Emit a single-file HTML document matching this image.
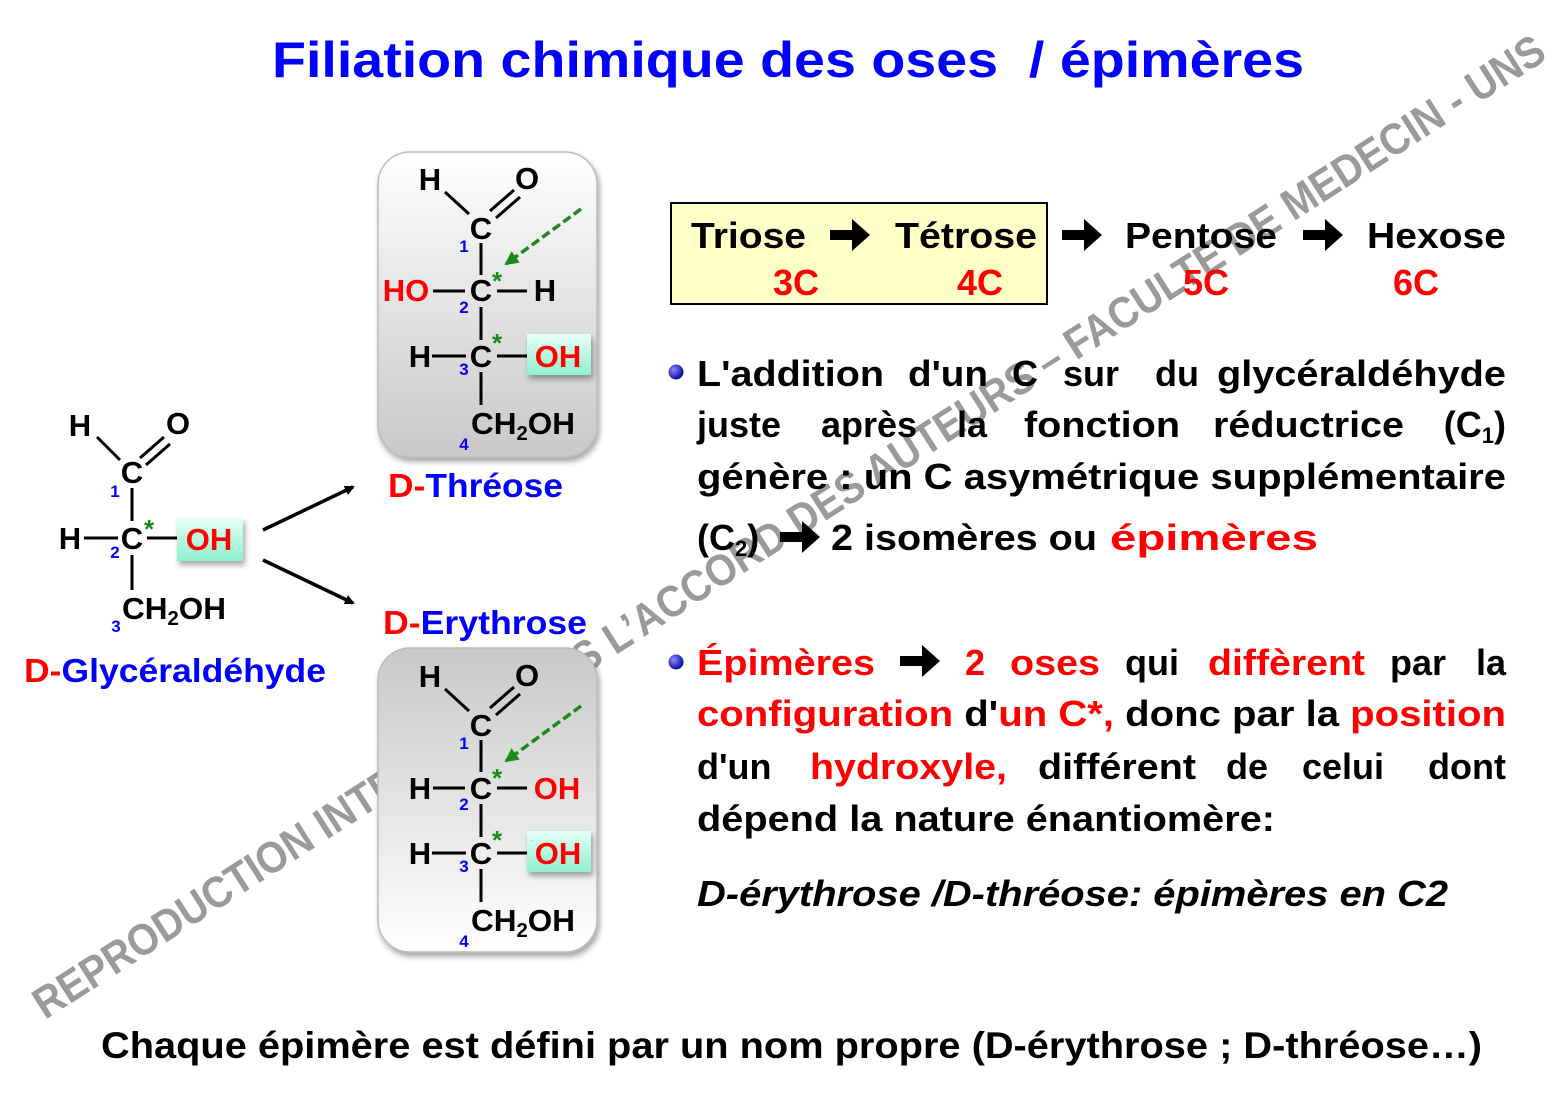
<!DOCTYPE html>
<html><head><meta charset="utf-8"><style>
html,body{margin:0;padding:0;background:#fff}
svg{display:block}
text{font-family:"Liberation Sans",Arial,sans-serif;font-weight:bold}
.at{font-size:31px;fill:#000;text-anchor:middle}
.num{font-size:17px;fill:#0000ff;text-anchor:middle}
.st{font-size:26px;fill:#1a8a1a;text-anchor:middle}
.p{font-size:36px;fill:#000}
.r{fill:#ff0000}
</style></head><body>
<svg width="1560" height="1114" viewBox="0 0 1560 1114" xmlns="http://www.w3.org/2000/svg">
<defs>
<linearGradient id="gt" x1="0" y1="0" x2="0" y2="1"><stop offset="0" stop-color="#ffffff"/><stop offset="1" stop-color="#c8c8c8"/></linearGradient>
<linearGradient id="ge" x1="0" y1="0" x2="0" y2="1"><stop offset="0" stop-color="#c8c8c8"/><stop offset="1" stop-color="#ffffff"/></linearGradient>
<linearGradient id="gm" x1="0" y1="0" x2="0" y2="1"><stop offset="0" stop-color="#e6fff4"/><stop offset="1" stop-color="#8ff0cf"/></linearGradient>
<radialGradient id="gb" cx="0.35" cy="0.35" r="0.7"><stop offset="0" stop-color="#8a8aff"/><stop offset="1" stop-color="#0000a0"/></radialGradient>
<filter id="sh" x="-10%" y="-10%" width="130%" height="130%"><feDropShadow dx="2" dy="4" stdDeviation="3" flood-color="#000" flood-opacity="0.35"/></filter>
<marker id="ab" markerWidth="10" markerHeight="10" refX="8" refY="5" orient="auto" markerUnits="userSpaceOnUse"><path d="M0,0 L10,5 L0,10 z" fill="#000"/></marker>
<marker id="ag" markerWidth="14" markerHeight="14" refX="12" refY="7" orient="auto" markerUnits="userSpaceOnUse"><path d="M0,0 L14,7 L0,14 z" fill="#1a8a1a"/></marker>
<g id="arr"><path d="M0,-5 H22 V-16 L40,0 L22,16 V5 H0 z" fill="#000"/></g>
</defs>

<!-- Title -->
<text x="272" y="77" font-size="50" fill="#0000ff" textLength="1032" lengthAdjust="spacingAndGlyphs" xml:space="preserve">Filiation chimique des oses  / épimères</text>

<!-- Glyceraldehyde -->
<g stroke="#000" stroke-width="3" fill="none">
<line x1="97" y1="437" x2="120" y2="460"/>
<line x1="140" y1="458" x2="164" y2="437"/>
<line x1="146" y1="465" x2="170" y2="444"/>
<line x1="132" y1="488" x2="132" y2="521"/>
<line x1="132" y1="555" x2="132" y2="590"/>
<line x1="84" y1="538" x2="118" y2="538"/>
<line x1="147" y1="538" x2="178" y2="538"/>
</g>
<rect x="177" y="518" width="66" height="43" fill="url(#gm)" filter="url(#sh)"/>
<text class="at" x="80" y="436">H</text>
<text class="at" x="178" y="434">O</text>
<text class="at" x="132" y="483">C</text>
<text class="at" x="70" y="549">H</text>
<text class="at" x="132" y="549">C</text>
<text class="at r" x="209" y="550">OH</text>
<text class="at" x="122" y="619" style="text-anchor:start" textLength="104" lengthAdjust="spacingAndGlyphs">CH<tspan font-size="20" dy="6">2</tspan><tspan dy="-6">OH</tspan></text>
<text class="num" x="115" y="497">1</text>
<text class="num" x="115" y="558">2</text>
<text class="num" x="116" y="632">3</text>
<text class="st" x="149" y="538">*</text>
<text x="24" y="682" font-size="33" fill="#0000ff" textLength="302" lengthAdjust="spacingAndGlyphs"><tspan fill="#ff0000">D-</tspan>Glycéraldéhyde</text>

<!-- arrows -->
<line x1="263" y1="530" x2="353" y2="487" stroke="#000" stroke-width="3.5" marker-end="url(#ab)"/>
<line x1="263" y1="560" x2="353" y2="603" stroke="#000" stroke-width="3.5" marker-end="url(#ab)"/>

<!-- Watermark -->
<text transform="translate(45,1020) rotate(-32.6)" font-size="44" fill="#9a9a9a" textLength="1785" lengthAdjust="spacingAndGlyphs">REPRODUCTION INTERDITE SANS L’ACCORD DES AUTEURS – FACULTE DE MEDECIN - UNS</text>

<!-- Threose box -->
<rect x="378" y="152" width="219" height="305" rx="32" fill="url(#gt)" stroke="#bbb" stroke-width="1.5" filter="url(#sh)"/>
<g id="top">
<g stroke="#000" stroke-width="3" fill="none">
<line x1="445" y1="192" x2="469" y2="214"/>
<line x1="490" y1="211" x2="514" y2="190"/>
<line x1="496" y1="218" x2="520" y2="197"/>
<line x1="481" y1="243" x2="481" y2="275"/>
<line x1="481" y1="307" x2="481" y2="340"/>
<line x1="432" y1="356" x2="466" y2="356"/>
<line x1="497" y1="356" x2="528" y2="356"/>
<line x1="481" y1="372" x2="481" y2="405"/>
</g>
<line x1="581" y1="209" x2="506" y2="264" stroke="#1a8a1a" stroke-width="3.5" stroke-dasharray="9,4" marker-end="url(#ag)"/>
<rect x="527" y="334" width="64" height="41" fill="url(#gm)" filter="url(#sh)"/>
<text class="at" x="430" y="190">H</text>
<text class="at" x="527" y="189">O</text>
<text class="at" x="481" y="239">C</text>
<text class="at" x="420" y="367">H</text>
<text class="at" x="481" y="367">C</text>
<text class="at r" x="558" y="367">OH</text>
<text class="at" x="471" y="434" style="text-anchor:start" textLength="104" lengthAdjust="spacingAndGlyphs">CH<tspan font-size="20" dy="6">2</tspan><tspan dy="-6">OH</tspan></text>
<text class="num" x="464" y="252">1</text>
<text class="num" x="464" y="375">3</text>
<text class="num" x="464" y="450">4</text>
<text class="st" x="497" y="290">*</text>
<text class="st" x="497" y="352">*</text>
</g>
<g stroke="#000" stroke-width="3"><line x1="433" y1="291" x2="465" y2="291"/><line x1="497" y1="291" x2="527" y2="291"/></g>
<text class="at r" x="406" y="301">HO</text>
<text class="at" x="481" y="301">C</text>
<text class="at" x="545" y="301">H</text>
<text class="num" x="464" y="313">2</text>
<text x="388" y="497" font-size="33" fill="#0000ff" textLength="175" lengthAdjust="spacingAndGlyphs"><tspan fill="#ff0000">D-</tspan>Thréose</text>

<!-- Erythrose -->
<text x="383" y="634" font-size="33" fill="#0000ff" textLength="204" lengthAdjust="spacingAndGlyphs"><tspan fill="#ff0000">D-</tspan>Erythrose</text>
<rect x="378" y="648" width="219" height="304" rx="32" fill="url(#ge)" stroke="#bbb" stroke-width="1.5" filter="url(#sh)"/>
<use href="#top" transform="translate(0,497)"/>
<g stroke="#000" stroke-width="3"><line x1="433" y1="788" x2="465" y2="788"/><line x1="497" y1="788" x2="527" y2="788"/></g>
<text class="at" x="420" y="799">H</text>
<text class="at" x="481" y="799">C</text>
<text class="at r" x="557" y="799">OH</text>
<text class="num" x="464" y="810">2</text>

<!-- Triose box -->
<rect x="671" y="203" width="376" height="101" fill="#ffffc8" stroke="#000" stroke-width="2"/>
<text class="p" x="691" y="248" font-size="37" textLength="115" lengthAdjust="spacingAndGlyphs">Triose</text>
<text class="p" x="895" y="248" font-size="37" textLength="142" lengthAdjust="spacingAndGlyphs">Tétrose</text>
<text class="p" x="1125" y="248" font-size="37" textLength="152" lengthAdjust="spacingAndGlyphs">Pentose</text>
<text class="p" x="1367" y="248" font-size="37" textLength="139" lengthAdjust="spacingAndGlyphs">Hexose</text>
<text class="p" x="773" y="295" font-size="37" style="fill:#f00">3C</text>
<text class="p" x="957" y="295" font-size="37" style="fill:#f00">4C</text>
<text class="p" x="1183" y="295" font-size="37" style="fill:#f00">5C</text>
<text class="p" x="1393" y="295" font-size="37" style="fill:#f00">6C</text>
<use href="#arr" x="830" y="235"/>
<use href="#arr" x="1062" y="235"/>
<use href="#arr" x="1303" y="235"/>

<!-- paragraph 1 -->
<circle cx="676" cy="372" r="7.5" fill="url(#gb)"/>
<text class="p" x="697" y="386" textLength="187" lengthAdjust="spacingAndGlyphs">L'addition</text>
<text class="p" x="908" y="386" textLength="80" lengthAdjust="spacingAndGlyphs">d'un</text>
<text class="p" x="1012" y="386">C</text>
<text class="p" x="1063" y="386">sur</text>
<text class="p" x="1155" y="386">du</text>
<text class="p" x="1217" y="386" textLength="289" lengthAdjust="spacingAndGlyphs">glycéraldéhyde</text>
<text class="p" x="697" y="437">juste</text>
<text class="p" x="821" y="437">après</text>
<text class="p" x="957" y="437">la</text>
<text class="p" x="1024" y="437" textLength="156" lengthAdjust="spacingAndGlyphs">fonction</text>
<text class="p" x="1213" y="437" textLength="191" lengthAdjust="spacingAndGlyphs">réductrice</text>
<text class="p" x="1506" y="437" text-anchor="end">(C<tspan font-size="22" dy="6">1</tspan><tspan dy="-6">)</tspan></text>
<text class="p" x="697" y="489" textLength="809" lengthAdjust="spacingAndGlyphs">génère : un C asymétrique supplémentaire</text>
<text class="p" x="697" y="550">(C<tspan font-size="22" dy="6">2</tspan><tspan dy="-6">)</tspan></text>
<use href="#arr" x="780" y="537"/>
<text class="p" x="831" y="550" textLength="266" lengthAdjust="spacingAndGlyphs">2 isomères ou</text>
<text class="p" x="1110" y="550" style="fill:#f00" font-size="43" textLength="208" lengthAdjust="spacingAndGlyphs">épimères</text>

<!-- paragraph 2 -->
<circle cx="676" cy="662" r="7.5" fill="url(#gb)"/>
<text class="p r" x="697" y="675" textLength="178" lengthAdjust="spacingAndGlyphs">Épimères</text>
<use href="#arr" x="900" y="661"/>
<text class="p r" x="965" y="675">2</text>
<text class="p r" x="1010" y="675" textLength="90" lengthAdjust="spacingAndGlyphs">oses</text>
<text class="p" x="1125" y="675">qui</text>
<text class="p r" x="1208" y="675" textLength="157" lengthAdjust="spacingAndGlyphs">diffèrent</text>
<text class="p" x="1390" y="675">par</text>
<text class="p" x="1506" y="675" text-anchor="end">la</text>
<text class="p" x="697" y="726" textLength="809" lengthAdjust="spacingAndGlyphs"><tspan style="fill:#f00">configuration</tspan> d'<tspan style="fill:#f00">un C*,</tspan> donc par la <tspan style="fill:#f00">position</tspan></text>
<text class="p" x="697" y="779">d'un</text>
<text class="p r" x="810" y="779" textLength="197" lengthAdjust="spacingAndGlyphs">hydroxyle,</text>
<text class="p" x="1038" y="779" textLength="158" lengthAdjust="spacingAndGlyphs">différent</text>
<text class="p" x="1226" y="779">de</text>
<text class="p" x="1302" y="779">celui</text>
<text class="p" x="1506" y="779" text-anchor="end">dont</text>
<text class="p" x="697" y="831" textLength="578" lengthAdjust="spacingAndGlyphs">dépend la nature énantiomère:</text>
<text class="p" x="697" y="906" font-style="italic" textLength="751" lengthAdjust="spacingAndGlyphs">D-érythrose /D-thréose: épimères en C2</text>

<!-- bottom -->
<text x="101" y="1058" font-size="37" fill="#000" textLength="1381" lengthAdjust="spacingAndGlyphs">Chaque épimère est défini par un nom propre (D-érythrose ; D-thréose…)</text>
</svg>
</body></html>
